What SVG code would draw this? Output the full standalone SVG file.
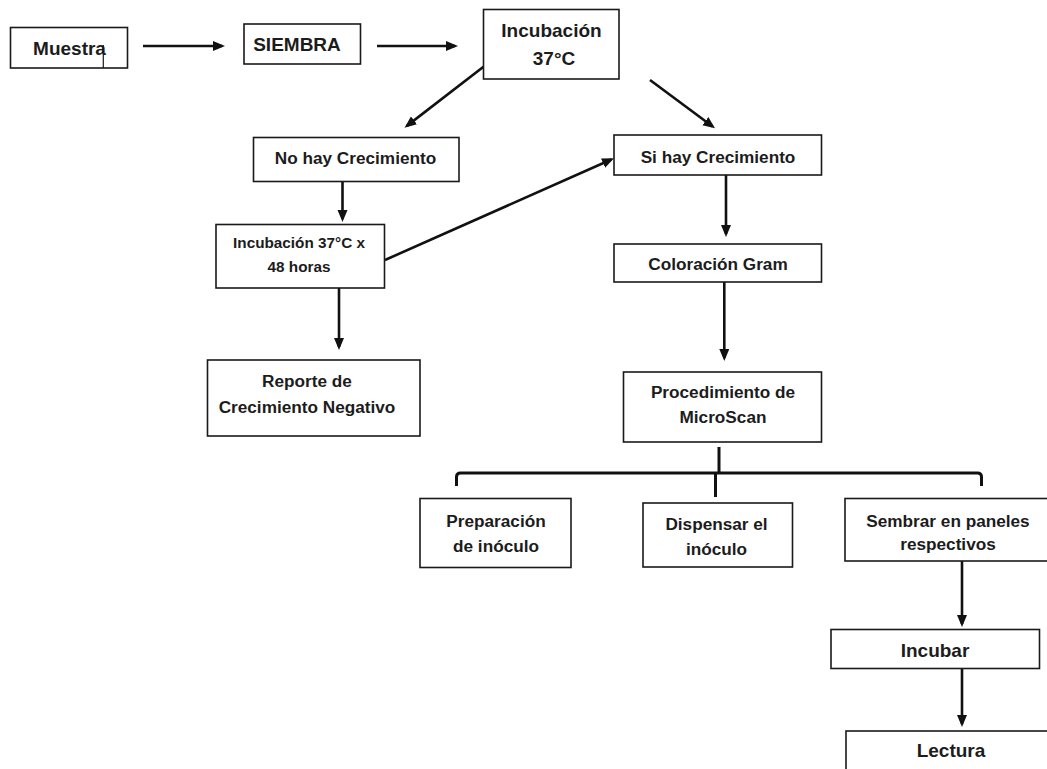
<svg xmlns="http://www.w3.org/2000/svg" width="1047" height="769" viewBox="0 0 1047 769">
<defs>
<marker id="ah" markerUnits="userSpaceOnUse" markerWidth="13" markerHeight="11" refX="9" refY="5" orient="auto">
<path d="M0,0 L12,5 L0,10 z" fill="#111"/>
</marker>
<style>
.box{fill:#fff;stroke:#1a1a1a;stroke-width:1.6}
.t{font-family:"Liberation Sans",Arial,sans-serif;font-weight:bold;fill:#1c1c1c;text-anchor:middle}
.s19{font-size:19px}
.s17{font-size:17.2px}
.s15{font-size:15.3px}
.arr{stroke:#111;stroke-width:2.6;fill:none;marker-end:url(#ah)}
.br{stroke:#111;stroke-width:3;fill:none}
</style>
</defs>
<rect width="1047" height="769" fill="#fff"/>
<g id="connectors">
<line class="arr" x1="143" y1="46" x2="222" y2="46"/>
<line class="arr" x1="377" y1="46" x2="455" y2="46"/>
<line class="arr" x1="483.5" y1="66.7" x2="406.9" y2="125.9"/>
<line class="arr" x1="650" y1="80" x2="712.6" y2="126.5"/>
<line class="arr" x1="342.5" y1="182" x2="342.5" y2="219"/>
<line class="arr" x1="385" y1="260" x2="611.3" y2="159.5"/>
<line class="arr" x1="339" y1="288" x2="339" y2="347"/>
<line class="arr" x1="726" y1="175" x2="726" y2="234"/>
<line class="arr" x1="724.3" y1="282" x2="724.3" y2="358"/>
<line class="br" x1="719" y1="447" x2="719" y2="473"/>
<path class="br" d="M456.5,486 L456.5,477 Q456.5,473 460.5,473 L977.5,473 Q981.5,473 981.5,477 L981.5,486"/>
<line class="br" x1="715.5" y1="473" x2="715.5" y2="497"/>
<line class="arr" x1="962" y1="561" x2="962" y2="624"/>
<line class="arr" x1="962" y1="668" x2="962" y2="724"/>
</g>
<g id="muestra">
<rect class="box" x="10.5" y="27.5" width="117" height="40.5"/>
<text class="t s19" x="69.5" y="54.5">Muestra</text>
<line x1="103.3" y1="45" x2="103.3" y2="68" stroke="#1a1a1a" stroke-width="1.2"/>
</g>
<g id="siembra">
<rect class="box" x="244" y="24" width="116.5" height="40"/>
<text class="t s19" x="297" y="50.5">SIEMBRA</text>
</g>
<g id="incubacion">
<rect class="box" x="483.5" y="9.5" width="135.5" height="69.5"/>
<text class="t s19" x="551.5" y="36.5">Incubación</text>
<text class="t s19" x="554" y="65">37°C</text>
</g>
<g id="no-hay">
<rect class="box" x="253.5" y="137.5" width="205.5" height="44"/>
<text class="t s17" x="355.5" y="164">No hay Crecimiento</text>
</g>
<g id="incubacion-48">
<rect class="box" x="216" y="224.5" width="168.5" height="63.5"/>
<text class="t s15" x="299" y="248">Incubación 37°C x</text>
<text class="t s15" x="299" y="272">48 horas</text>
</g>
<g id="reporte">
<rect class="box" x="207.5" y="360" width="212.5" height="76"/>
<text class="t s17" x="307" y="387">Reporte de</text>
<text class="t s17" x="307" y="413">Crecimiento Negativo</text>
</g>
<g id="si-hay">
<rect class="box" x="614" y="135" width="207.5" height="40"/>
<text class="t s17" x="718" y="163">Si hay Crecimiento</text>
</g>
<g id="coloracion">
<rect class="box" x="614" y="244" width="207.5" height="38"/>
<text class="t s17" x="718" y="270">Coloración Gram</text>
</g>
<g id="procedimiento">
<rect class="box" x="623.5" y="372" width="198" height="70"/>
<text class="t s17" x="723" y="398">Procedimiento de</text>
<text class="t s17" x="723" y="423">MicroScan</text>
</g>
<g id="preparacion">
<rect class="box" x="420" y="498.5" width="151" height="69"/>
<text class="t s17" x="496" y="527">Preparación</text>
<text class="t s17" x="496" y="552">de inóculo</text>
</g>
<g id="dispensar">
<rect class="box" x="643" y="503" width="149.5" height="64"/>
<text class="t s17" x="716.5" y="530">Dispensar el</text>
<text class="t s17" x="716.5" y="555">inóculo</text>
</g>
<g id="sembrar">
<rect class="box" x="845" y="498.5" width="210" height="62.5"/>
<text class="t s17" x="948" y="527">Sembrar en paneles</text>
<text class="t s17" x="948" y="550">respectivos</text>
</g>
<g id="incubar">
<rect class="box" x="831" y="629.5" width="208.5" height="39"/>
<text class="t s19" x="935" y="657">Incubar</text>
</g>
<g id="lectura">
<rect class="box" x="846" y="731" width="210" height="50"/>
<text class="t s19" x="951" y="757">Lectura</text>
</g>
</svg>
